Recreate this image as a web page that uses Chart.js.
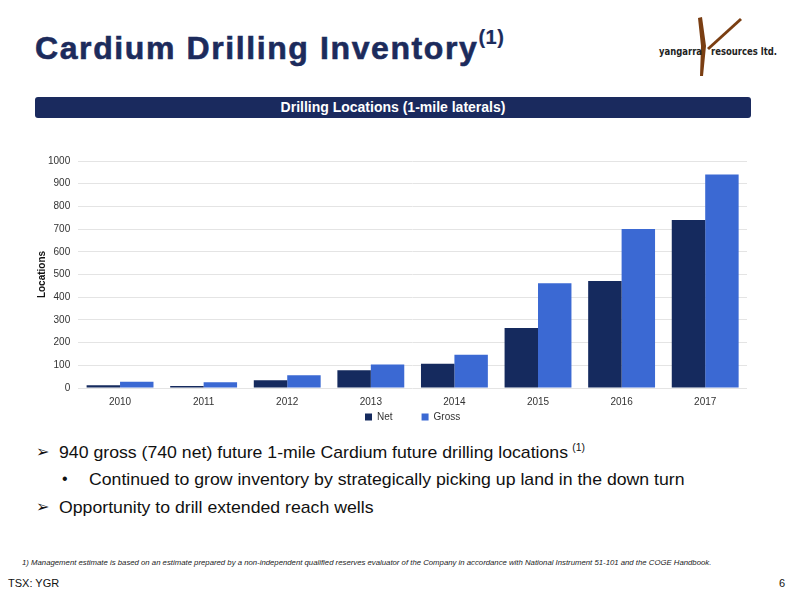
<!DOCTYPE html>
<html>
<head>
<meta charset="utf-8">
<script src="https://cdn.jsdelivr.net/npm/chart.js@4"></script>
<style>
  body { margin: 0; width: 800px; height: 600px; background: #fff; position: relative; overflow: hidden;
         font-family: "Liberation Sans", Arial, sans-serif; }
  .abs { position: absolute; white-space: nowrap; }
  #title { left: 35px; top: 29px; font-size: 32px; font-weight: bold; color: #1c2b5c; letter-spacing: 1.6px;
           -webkit-text-stroke: 0.6px #1c2b5c; }
  #title sup { font-size: 20px; position: relative; top: -3px; letter-spacing: 0.5px; -webkit-text-stroke: 0.2px #1c2b5c; }
  #banner { left: 35px; top: 97px; width: 716px; height: 21px; background: #1a2a5e; border-radius: 3px;
            color: #fff; font-size: 14px; font-weight: bold; text-align: center; line-height: 21px; }
  #chartBox { left: 30px; top: 147px; width: 730px; height: 285px; }
  .bul { font-size: 17px; color: #111; transform-origin: left center; transform: scaleX(1.04); }
  .bul sup { font-size: 10px; margin-left: 4px; }
  .mark { font-size: 16px; color: #111; }
  #foot { left: 22px; top: 558px; font-size: 8px; font-style: italic; color: #222; transform-origin: left center; transform: scaleX(0.97); }
  #tsx { left: 8px; top: 577px; font-size: 11px; color: #111; }
  #page { left: 779px; top: 577px; font-size: 11px; color: #111; }
</style>
</head>
<body>
<div id="title" class="abs">Cardium Drilling Inventory<sup>(1)</sup></div>

<svg class="abs" style="left:640px;top:8px" width="150" height="75">
  <path d="M58 10 L62 9 L66 38 L63 68 L60 68 L61 38 Z" fill="#7a3e12"/>
  <path d="M100 10 L102 12 L69 42 L67 40 Z" fill="#7a3e12"/>
  <text x="19" y="47" font-family="DejaVu Sans Condensed, sans-serif" font-weight="bold" font-size="10.5" fill="#222" textLength="43" lengthAdjust="spacingAndGlyphs">yangarra</text>
  <text x="71" y="47" font-family="DejaVu Sans Condensed, sans-serif" font-weight="bold" font-size="10.5" fill="#222" textLength="66" lengthAdjust="spacingAndGlyphs">resources ltd.</text>
</svg>

<div id="banner" class="abs">Drilling Locations (1-mile laterals)</div>

<div id="chartBox" class="abs"><canvas id="drillChart"></canvas></div>

<div class="abs mark" style="left:36px;top:442px">&#10146;</div>
<div class="abs bul" style="left:59px;top:442px">940 gross (740 net) future 1-mile Cardium future drilling locations<sup>(1)</sup></div>
<div class="abs mark" style="left:62px;top:470px">&bull;</div>
<div class="abs bul" style="left:89px;top:470px">Continued to grow inventory by strategically picking up land in the down turn</div>
<div class="abs mark" style="left:36px;top:497px">&#10146;</div>
<div class="abs bul" style="left:59px;top:498px">Opportunity to drill extended reach wells</div>

<div id="foot" class="abs">1) Management estimate is based on an estimate prepared by a non-independent qualified reserves evaluator of the Company in accordance with National Instrument 51-101 and the COGE Handbook.</div>
<div id="tsx" class="abs">TSX: YGR</div>
<div id="page" class="abs">6</div>

<script>
const years = ["2010", "2011", "2012", "2013", "2014", "2015", "2016", "2017"];
const seriesNames = ["Net", "Gross"];
const netLocations = [12, 9, 34, 78, 107, 264, 471, 740];
const grossLocations = [28, 25, 56, 104, 147, 461, 700, 940];
const yTicks = [0, 100, 200, 300, 400, 500, 600, 700, 800, 900, 1000];

const colors = {
  net: "#152a5e",
  gross: "#3b69d3",
  grid: "#e4e4e4",
  text: "#333333",
};

new Chart(document.getElementById("drillChart").getContext("2d"), {
  type: "bar",
  data: {
    labels: years,
    datasets: [
      { label: seriesNames[0], data: netLocations, backgroundColor: colors.net },
      { label: seriesNames[1], data: grossLocations, backgroundColor: colors.gross },
    ],
  },
  options: {
    responsive: true,
    maintainAspectRatio: false,
    animation: false,
    datasets: { bar: { categoryPercentage: 0.8, barPercentage: 1.0 } },
    layout: { padding: { top: 0, right: 13, left: 6, bottom: 0 } },
    plugins: {
      legend: {
        display: true,
        position: "bottom",
        fullSize: false,
        labels: {
          color: colors.text,
          boxWidth: 7,
          boxHeight: 7,
          padding: 4,
          font: { family: "Liberation Sans", size: 10 },
          // wider gap between the two legend entries, like the slide
          generateLabels: (chart) =>
            Chart.defaults.plugins.legend.labels.generateLabels(chart).map((item, i) => ({
              ...item,
              text: i === 0 ? item.text + "\u2003\u2003\u2002" : item.text,
            })),
        },
      },
      tooltip: { enabled: false },
    },
    scales: {
      x: {
        grid: { display: false },
        border: { display: false },
        ticks: { color: colors.text, font: { family: "Liberation Sans", size: 10 }, padding: 0 },
      },
      y: {
        min: 0,
        max: 1000,
        afterBuildTicks: (axis) => { axis.ticks = yTicks.map((v) => ({ value: v })); },
        grid: { color: colors.grid, drawTicks: false },
        border: { display: false },
        title: {
          display: true,
          text: "Locations",
          color: "#111",
          font: { family: "Liberation Sans", size: 10, weight: "bold" },
          padding: { top: 0, bottom: -8 },
        },
        ticks: {
          color: colors.text,
          font: { family: "Liberation Sans", size: 10 },
          padding: 8,
          callback: (v) => String(v),
        },
      },
    },
  },
});
</script>
</body>
</html>
